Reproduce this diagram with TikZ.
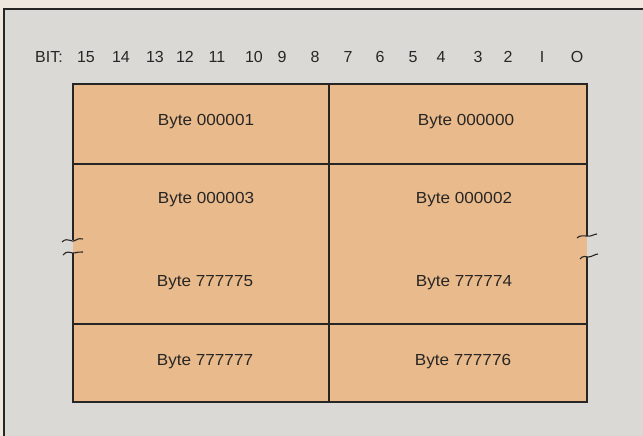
\documentclass[tikz,border=0pt]{standalone}
\usepackage{fontspec}
\setmainfont{Liberation Sans}
\definecolor{paper}{RGB}{238,232,222}
\definecolor{panel}{RGB}{219,217,213}
\definecolor{tan}{RGB}{233,186,140}
\definecolor{ink}{RGB}{40,38,36}
\begin{document}
\begin{tikzpicture}[x=1pt,y=-1pt,
  lbl/.style={inner sep=0pt,font=\fontsize{16}{18}\selectfont,text=ink,xscale=1.07},
  bit/.style={inner sep=0pt,font=\fontsize{16}{18}\selectfont,text=ink},
  edge/.style={draw=ink,line width=1.8pt},
  squig/.style={draw=ink,line width=1.1pt}]
\useasboundingbox (0,0) rectangle (643,436);
\fill[paper] (0,0) rectangle (643,436);
\fill[panel] (4,9) rectangle (643,436);
\draw[ink,line width=2pt] (4,437) -- (4,9) -- (644,9);
% bit labels
\node[bit] (bitlbl) at (49,57) {BIT:};
\foreach \n/\x in {15/86,14/121,13/155,12/185,11/217,10/254,9/282,8/315,7/348,6/380,5/413,4/441,3/478,2/508,I/542,O/577}
  \node[bit] (b\n) at (\x,57) {\n};
% box fill
\fill[tan] (73,84) rectangle (587,402);
% horizontal and interior lines
\draw[edge] (72,84) -- (588,84);
\draw[edge] (73,164) -- (587,164);
\draw[edge] (73,324) -- (587,324);
\draw[edge] (72,402) -- (588,402);
\draw[edge] (329,84) -- (329,402);
% side lines with breaks
\draw[edge] (73,84) -- (73,240);
\draw[edge] (73,253) -- (73,402);
\draw[edge] (587,84) -- (587,236);
\draw[edge] (587,257) -- (587,402);
% break squiggles
\draw[squig] (62,242) .. controls (68,236) and (72,244) .. (76,240) .. controls (79,238) and (81,239) .. (83,239);
\draw[squig] (63,255) .. controls (67,250) and (70,253) .. (73,253) .. controls (77,253) and (80,251) .. (83,252);
\draw[squig] (577,238) .. controls (580,235) and (583,236) .. (587,236) .. controls (591,237) and (594,234) .. (597,234);
\draw[squig] (580,259) .. controls (583,255) and (586,257) .. (588,257) .. controls (592,257) and (595,254) .. (598,254);
% byte labels
\node[lbl] (b1) at (206,122) {Byte 000001};
\node[lbl] (b0) at (466,122) {Byte 000000};
\node[lbl] (b3) at (206,200) {Byte 000003};
\node[lbl] (b2) at (464,200) {Byte 000002};
\node[lbl] (b775) at (205,283) {Byte 777775};
\node[lbl] (b774) at (464,283) {Byte 777774};
\node[lbl] (b777) at (205,362) {Byte 777777};
\node[lbl] (b776) at (463,362) {Byte 777776};
\end{tikzpicture}
\end{document}
